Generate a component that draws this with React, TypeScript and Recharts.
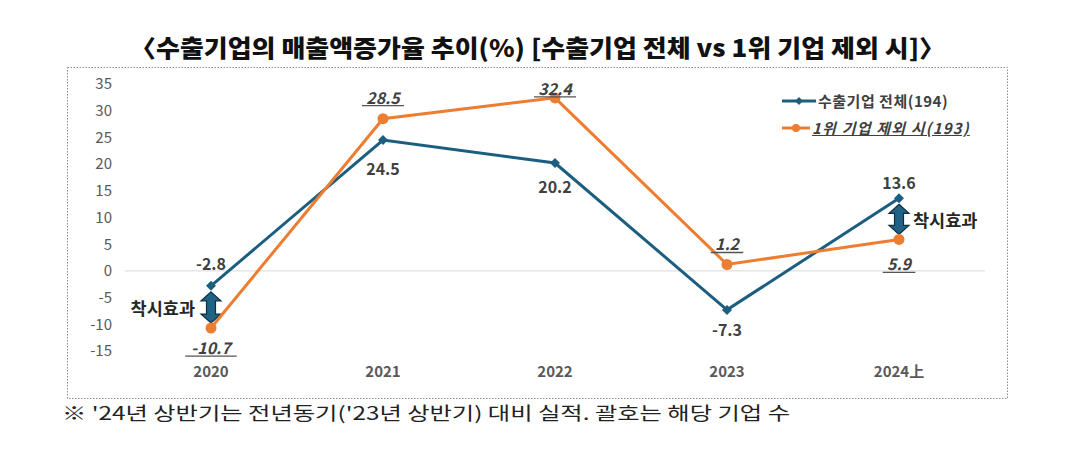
import React from 'react';
import { ComposedChart, Line, Bar, XAxis, YAxis, ReferenceLine, LabelList } from 'recharts';

const categories = ['2020', '2021', '2022', '2023', '2024上'];
const totalValues = [-2.8, 24.5, 20.2, -7.3, 13.6];
const excludeTopValues = [-10.7, 28.5, 32.4, 1.2, 5.9];
const yTicks = [-15, -10, -5, 0, 5, 10, 15, 20, 25, 30, 35];
const seriesNames = ['수출기업 전체(194)', '1위 기업 제외 시(193)'];
const illusionCategories = ['2020', '2024上'];
const illusionLabel = '착시효과';
const titleText = '〈수출기업의 매출액증가율 추이(%) [수출기업 전체 vs 1위 기업 제외 시]〉';
const noteText = "※ '24년 상반기는 전년동기('23년 상반기) 대비 실적. 괄호는 해당 기업 수";

// styling / placement config (not data)
const BLUE = '#1C5E80';
const ORANGE = '#ED7D31';
const TEXT = '#404040';
const FONT = '"Noto Sans CJK KR", "Noto Sans", sans-serif';
const totalLabelDy = [-23, 28, 23, 19, -16];
const excludeLabelDy = [19, -22, -10, -21, 24];
const illusionSide: Record<string, 'left' | 'right'> = { '2020': 'left', '2024上': 'right' };

const data = categories.map((c, i) => ({
  name: c,
  total: totalValues[i],
  excl: excludeTopValues[i],
  gap: illusionCategories.includes(c)
    ? [Math.min(totalValues[i], excludeTopValues[i]), Math.max(totalValues[i], excludeTopValues[i])]
    : null,
}));

const Diamond = (props: any) => {
  const { cx, cy } = props;
  if (cx == null || cy == null) return null;
  const s = 5;
  return <polygon points={`${cx},${cy - s} ${cx + s},${cy} ${cx},${cy + s} ${cx - s},${cy}`} fill={BLUE} />;
};

const Circle = (props: any) => {
  const { cx, cy } = props;
  if (cx == null || cy == null) return null;
  return <circle cx={cx} cy={cy} r={5.5} fill={ORANGE} />;
};

const makeLabel = (dys: number[], italic: boolean) => (props: any) => {
  const { x, y, value, index } = props;
  if (x == null || y == null) return null;
  const txt = Number(value).toFixed(1);
  const ty = y + dys[index];
  const w = txt.length * 9.5;
  return (
    <g>
      <text
        x={x}
        y={ty}
        textAnchor="middle"
        dominantBaseline="central"
        fontFamily={FONT}
        fontSize={16}
        fontWeight={700}
        fontStyle={italic ? 'italic' : 'normal'}
        fill={TEXT}
      >
        {txt}
      </text>
      {italic && <line x1={x - w / 2 - 2} x2={x + w / 2 + 2} y1={ty + 9} y2={ty + 9} stroke="#555" strokeWidth={1.3} />}
    </g>
  );
};

const GapArrow = (props: any) => {
  const { x, y, width, height, payload } = props;
  if (!payload || !payload.gap || width == null) return null;
  const cx = x + width / 2;
  const top = y + 6;
  const bot = y + height - 5;
  const hh = 9;
  const hw = 10;
  const sw = 4.5;
  const pts = [
    [cx, top], [cx + hw, top + hh], [cx + sw, top + hh], [cx + sw, bot - hh], [cx + hw, bot - hh],
    [cx, bot], [cx - hw, bot - hh], [cx - sw, bot - hh], [cx - sw, top + hh], [cx - hw, top + hh],
  ].map((p) => p.join(',')).join(' ');
  const side = illusionSide[payload.name];
  const mid = (top + bot) / 2;
  return (
    <g>
      <polygon points={pts} fill="#1F6286" stroke="#0E2F42" strokeWidth={1.2} />
      <text
        x={side === 'left' ? cx - 16 : cx + 14}
        y={mid}
        textAnchor={side === 'left' ? 'end' : 'start'}
        dominantBaseline="central"
        fontFamily={FONT}
        fontSize={17.5}
        fontWeight={700}
        fill="#262626"
      >
        {illusionLabel}
      </text>
    </g>
  );
};

const LegendBox = () => (
  <div style={{ position: 'absolute', left: 782, top: 87, fontFamily: FONT, fontSize: 15, color: TEXT, fontWeight: 700 }}>
    <div style={{ display: 'flex', alignItems: 'center', height: 27 }}>
      <svg width={34} height={12}>
        <line x1={0} y1={6} x2={34} y2={6} stroke={BLUE} strokeWidth={3} />
        <polygon points="17,2 21,6 17,10 13,6" fill={BLUE} />
      </svg>
      <span style={{ marginLeft: 2, letterSpacing: 0.5 }}>{seriesNames[0]}</span>
    </div>
    <div style={{ display: 'flex', alignItems: 'center', height: 27 }}>
      <svg width={28} height={12}>
        <line x1={0} y1={6} x2={28} y2={6} stroke={ORANGE} strokeWidth={3} />
        <circle cx={14} cy={6} r={4} fill={ORANGE} />
      </svg>
      <span style={{ marginLeft: 2, fontStyle: 'italic', textDecoration: 'underline', letterSpacing: 1.2 }}>{seriesNames[1]}</span>
    </div>
  </div>
);

export default function App() {
  return (
    <div style={{ position: 'absolute', left: 0, top: 0, width: 1090, height: 454, background: '#fff' }}>
      <svg width={1090} height={454} style={{ position: 'absolute', left: 0, top: 0 }}>
        <text
          x={130}
          y={46}
          textLength={815}
          lengthAdjust="spacingAndGlyphs"
          dominantBaseline="central"
          fontFamily={FONT}
          fontSize={24}
          fontWeight={900}
          fill="#111"
        >
          {titleText}
        </text>
        <rect x={67.5} y={67.5} width={940} height={331} fill="none" stroke="#8a8a8a" strokeWidth={1} strokeDasharray="1.5 1.5" />
        <text
          x={62}
          y={412}
          textLength={728}
          lengthAdjust="spacingAndGlyphs"
          dominantBaseline="central"
          fontFamily={FONT}
          fontSize={18}
          fontWeight={400}
          fill="#222"
        >
          {noteText}
        </text>
      </svg>
      <div style={{ position: 'absolute', left: 0, top: 0 }}>
        <ComposedChart width={1090} height={454} data={data} margin={{ top: 84, right: 105, bottom: 73, left: 65 }}>
          <XAxis
            dataKey="name"
            axisLine={false}
            tickLine={false}
            height={30}
            tickMargin={9}
            tick={{ fill: '#595959', fontSize: 15, fontFamily: FONT, fontWeight: 700 }}
          />
          <YAxis
            domain={[-15, 35]}
            ticks={yTicks}
            axisLine={false}
            tickLine={false}
            width={60}
            tickMargin={7}
            interval={0}
            tick={{ fill: '#595959', fontSize: 15, fontFamily: FONT }}
          />
          <ReferenceLine y={0} stroke="#d9d9d9" strokeWidth={1} />
          <Bar dataKey="gap" barSize={20} shape={<GapArrow />} isAnimationActive={false} />
          <Line
            type="linear"
            dataKey="total"
            stroke={BLUE}
            strokeWidth={3}
            dot={<Diamond />}
            activeDot={false}
            isAnimationActive={false}
          >
            <LabelList dataKey="total" content={makeLabel(totalLabelDy, false)} />
          </Line>
          <Line
            type="linear"
            dataKey="excl"
            stroke={ORANGE}
            strokeWidth={3}
            dot={<Circle />}
            activeDot={false}
            isAnimationActive={false}
          >
            <LabelList dataKey="excl" content={makeLabel(excludeLabelDy, true)} />
          </Line>
        </ComposedChart>
      </div>
      <LegendBox />
    </div>
  );
}
